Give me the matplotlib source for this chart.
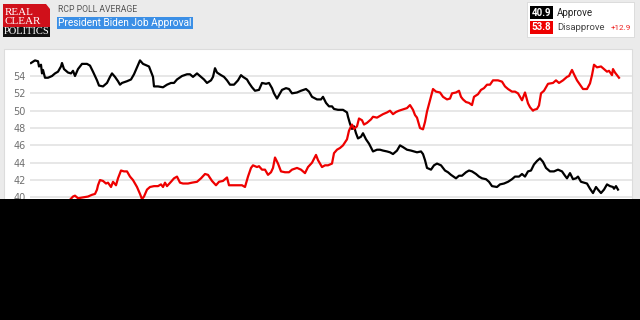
import matplotlib
matplotlib.use("Agg")
import matplotlib.pyplot as plt
from matplotlib.patches import Rectangle, Polygon

# days since start of the window
approve_days = [0, 4, 7, 8, 10, 11, 12, 14, 17, 21, 24, 27, 30, 31, 33, 37, 40, 42, 44, 47,
                51, 56, 59, 62, 66, 68, 72, 76, 79, 81, 84, 87, 89, 91, 96, 100, 103, 106, 109, 112,
                116, 118, 120, 122, 123, 127, 132, 136, 140, 143, 146, 151, 156, 159, 162, 166, 169, 173, 176, 180,
                182, 184, 186, 190, 193, 196, 199, 203, 207, 210, 212, 216, 218, 221, 224, 228, 231, 235, 238, 241,
                243, 246, 248, 251, 255, 258, 261, 266, 270, 275, 278, 281, 286, 290, 292, 295, 298, 301, 303, 307,
                312, 316, 317, 319, 321, 323, 325, 327, 330, 332, 335, 338, 342, 346, 349, 352, 356, 359, 362, 366,
                369, 372, 376, 380, 383, 386, 390, 392, 394, 396, 400, 403, 406, 410, 414, 417, 420, 425, 428, 431,
                435, 438, 441, 445, 448, 451, 455, 458, 461, 466, 469, 473, 477, 481, 484, 488, 491, 494, 497, 500,
                503, 506, 509, 512, 515, 519, 523, 527, 531, 534, 536, 539, 542, 545, 547, 550, 553, 556, 559, 562,
                565, 567, 570, 573, 576, 579, 582, 583, 585, 587]
approve = [55.5, 55.8, 55.7, 55.1, 55.3, 54.3, 54.7, 53.8, 53.8, 54.0, 54.3, 54.5, 55.1, 55.5, 54.8, 54.4, 54.3, 54.6, 54.0, 54.8,
           55.4, 55.4, 55.2, 54.5, 53.5, 52.9, 52.8, 53.2, 53.9, 54.3, 53.9, 53.4, 53.0, 53.2, 53.4, 53.6, 54.2, 55.0, 55.8, 55.4,
           55.2, 55.1, 54.5, 53.9, 52.8, 52.8, 52.7, 53.0, 53.2, 53.2, 53.6, 54.0, 54.2, 54.2, 53.9, 54.3, 54.0, 53.6, 53.2, 53.5,
           53.9, 54.9, 54.4, 54.1, 53.9, 53.5, 53.0, 53.0, 53.5, 54.1, 53.9, 53.6, 53.2, 52.7, 52.3, 52.4, 53.2, 53.1, 53.2, 52.6,
           52.0, 51.4, 51.8, 52.4, 52.6, 52.5, 52.0, 52.1, 52.3, 52.5, 52.2, 51.6, 51.3, 51.3, 51.6, 50.9, 50.5, 50.5, 50.2, 50.1,
           50.1, 49.8, 49.3, 48.5, 47.9, 48.2, 47.4, 46.8, 47.0, 47.4, 46.7, 46.2, 45.3, 45.5, 45.5, 45.4, 45.3, 45.2, 45.0, 45.4,
           46.0, 45.8, 45.5, 45.4, 45.3, 45.2, 45.3, 45.0, 44.3, 43.4, 43.2, 43.7, 43.9, 43.7, 43.1, 42.9, 42.6, 42.2, 42.5, 42.5,
           42.9, 43.1, 43.0, 42.7, 42.4, 42.2, 42.1, 41.8, 41.3, 41.2, 41.5, 41.6, 41.8, 42.1, 42.4, 42.4, 42.7, 42.4, 43.0, 43.1,
           43.8, 44.2, 44.5, 44.1, 43.4, 43.0, 43.0, 43.2, 43.0, 42.5, 42.2, 42.8, 42.1, 42.2, 42.4, 41.8, 41.7, 41.6, 41.0, 40.5,
           41.2, 40.9, 40.5, 40.9, 41.5, 41.3, 41.2, 41.0, 41.3, 40.9]

disapprove_days = [0, 10, 20, 30, 38, 42, 44, 47, 52, 57, 61, 64, 66, 67, 69, 72, 75, 77, 80, 82,
                   85, 87, 90, 93, 96, 99, 102, 106, 109, 111, 113, 116, 119, 123, 127, 130, 132, 134, 136, 140,
                   143, 146, 149, 152, 157, 161, 166, 170, 174, 177, 181, 185, 188, 192, 196, 198, 202, 207, 211, 214,
                   217, 220, 222, 226, 228, 231, 234, 237, 240, 242, 244, 247, 250, 254, 258, 261, 266, 270, 274, 277,
                   281, 285, 287, 291, 294, 297, 301, 303, 306, 309, 312, 316, 318, 321, 323, 326, 328, 331, 333, 336,
                   340, 342, 346, 349, 352, 356, 359, 362, 365, 368, 372, 376, 379, 382, 384, 386, 389, 392, 394, 396,
                   399, 402, 405, 409, 412, 416, 419, 421, 425, 428, 430, 432, 435, 438, 441, 443, 447, 450, 453, 456,
                   459, 462, 467, 471, 474, 477, 481, 484, 487, 491, 494, 497, 499, 502, 503, 506, 508, 510, 513, 517,
                   522, 525, 528, 532, 536, 538, 541, 543, 546, 549, 552, 556, 559, 561, 563, 566, 570, 572, 576, 578,
                   581, 582, 584, 586, 588]
disapprove = [37.0, 37.8, 38.5, 39.0, 39.6, 40.1, 40.2, 39.9, 40.0, 40.1, 40.3, 40.4, 40.9, 41.4, 42.0, 41.9, 41.6, 41.7, 41.2, 41.8,
              41.4, 42.2, 43.1, 43.0, 43.0, 42.4, 42.0, 41.2, 40.4, 39.8, 40.1, 40.9, 41.2, 41.3, 41.3, 41.5, 41.2, 41.7, 41.3, 41.8,
              42.2, 42.4, 41.7, 41.6, 41.6, 41.7, 41.8, 42.2, 42.7, 42.6, 41.9, 41.4, 41.8, 41.9, 42.3, 41.4, 41.4, 41.4, 41.4, 41.2,
              42.4, 43.4, 43.7, 43.5, 43.6, 43.2, 43.2, 42.6, 42.9, 43.4, 44.6, 43.9, 43.0, 42.9, 42.9, 43.2, 43.4, 43.2, 42.8, 43.5,
              44.0, 44.9, 44.3, 43.5, 43.7, 43.7, 43.9, 45.1, 45.5, 45.7, 46.0, 46.7, 47.7, 48.4, 47.9, 48.2, 49.1, 48.9, 48.4, 48.6,
              49.0, 49.3, 49.2, 49.4, 49.6, 49.8, 50.0, 49.6, 49.85, 50.0, 50.15, 50.3, 50.65, 50.1, 49.5, 49.2, 48.0, 47.85, 48.7, 49.9,
              51.2, 52.5, 52.2, 52.1, 51.6, 51.3, 51.4, 52.0, 52.1, 52.3, 51.6, 51.3, 51.0, 50.9, 50.65, 51.6, 51.9, 52.4, 52.6, 53.0,
              53.0, 53.5, 53.5, 53.35, 52.8, 52.5, 52.2, 52.2, 52.0, 51.2, 52.1, 50.85, 50.4, 50.0, 50.1, 50.2, 50.6, 52.0, 52.3, 53.1,
              53.2, 53.5, 53.2, 53.5, 53.9, 54.0, 54.7, 54.2, 53.5, 53.0, 52.5, 52.5, 53.15, 54.1, 55.3, 55.0, 55.1, 54.9, 54.5, 54.6,
              54.1, 54.8, 54.4, 54.1, 53.8]

y_ticks = [40, 42, 44, 46, 48, 50, 52, 54]
title = "President Biden Job Approval"
subtitle = "RCP POLL AVERAGE"
latest = {"Approve": "40.9", "Disapprove": "53.8", "spread": "+12.9"}

W, H = 640, 320


def fx(px):
    return px / W


def fy(py):
    return 1 - py / H


fig = plt.figure(figsize=(6.4, 3.2), dpi=100, facecolor="#ebebeb")

# white chart panel, behind the axes
fig.patches.append(Rectangle((fx(4), fy(320)), fx(632) - fx(4), fy(49) - fy(320),
                             transform=fig.transFigure, facecolor="white",
                             edgecolor="#dcdcdc", lw=0.8, zorder=-5))

ax = fig.add_axes([fx(30), fy(215), fx(632) - fx(30), fy(50) - fy(215)])
ax.set_zorder(2)
ax.set_facecolor("none")
ax.plot(approve_days, approve, color="black", lw=1.6, solid_joinstyle="round")
ax.plot(disapprove_days, disapprove, color="#ee0000", lw=1.6, solid_joinstyle="round")
ax.set_xlim(-1, 601)
ax.set_ylim(37.97, 57.0)
ax.set_yticks(y_ticks)
ax.set_xticks([])
ax.grid(axis="y", color="#e3e3e3", lw=1.2)
ax.set_axisbelow(True)
ax.tick_params(axis="y", length=0, pad=3, labelsize=7, labelcolor="#707070")
for s in ax.spines.values():
    s.set_visible(False)

# black band covering the bottom of the screenshot
fig.patches.append(Rectangle((0, 0), 1, fy(199), transform=fig.transFigure,
                             facecolor="black", edgecolor="none", zorder=10))

# logo
fig.patches.append(Polygon([(fx(3), fy(4)), (fx(46), fy(4)), (fx(50), fy(9)),
                            (fx(50), fy(27)), (fx(3), fy(27))], closed=True,
                           transform=fig.transFigure, facecolor="#d0101a", edgecolor="none"))
fig.patches.append(Rectangle((fx(3), fy(36.5)), fx(50) - fx(3), fy(27) - fy(36.5),
                             transform=fig.transFigure, facecolor="#111111", edgecolor="none"))
serif = ["Liberation Serif", "DejaVu Serif"]
fig.text(fx(4.5), fy(12.5), "REAL", family=serif, fontsize=8, color="white", va="center", ha="left")
fig.text(fx(4.5), fy(21), "CLEAR", family=serif, fontsize=8, color="white", va="center", ha="left")
fig.text(fx(26.5), fy(31.8), "POLITICS", family=serif, fontsize=7.6, color="white", va="center", ha="center")

# header texts
fig.text(fx(58), fy(9.5), subtitle, family=["Roboto", "DejaVu Sans"], fontsize=6.2,
         color="#555555", va="center", ha="left")
fig.text(fx(58.5), fy(23), title, family=["Roboto", "DejaVu Sans"], fontsize=7.3,
         color="white", va="center", ha="left",
         bbox=dict(boxstyle="square,pad=0.12", facecolor="#3b8fe6", edgecolor="none"))

# latest values box
fig.patches.append(Rectangle((fx(527), fy(37)), fx(634) - fx(527), fy(2) - fy(37),
                             transform=fig.transFigure, facecolor="white",
                             edgecolor="#d8d8d8", lw=0.6))
fig.patches.append(Rectangle((fx(530), fy(19)), fx(553) - fx(530), fy(6) - fy(19),
                             transform=fig.transFigure, facecolor="black", edgecolor="none"))
fig.patches.append(Rectangle((fx(530), fy(34)), fx(553) - fx(530), fy(21) - fy(34),
                             transform=fig.transFigure, facecolor="#ee0000", edgecolor="none"))
fig.text(fx(541.5), fy(12.5), latest["Approve"], family=["Roboto", "DejaVu Sans"], fontsize=7,
         fontweight="bold", color="white", va="center", ha="center")
fig.text(fx(541.5), fy(27.5), latest["Disapprove"], family=["Roboto", "DejaVu Sans"], fontsize=7,
         fontweight="bold", color="white", va="center", ha="center")
fig.text(fx(557), fy(12.5), "Approve", family=["Roboto", "DejaVu Sans"], fontsize=7,
         color="#222222", va="center", ha="left")
fig.text(fx(557), fy(27.5), "Disapprove", family=["Roboto", "DejaVu Sans"], fontsize=6.8,
         color="#444444", va="center", ha="left")
fig.text(fx(631), fy(28), latest["spread"], family=["Roboto", "DejaVu Sans"], fontsize=5.9,
         color="#ee2222", va="center", ha="right")

fig.savefig("out.png", dpi=100, facecolor=fig.get_facecolor())
